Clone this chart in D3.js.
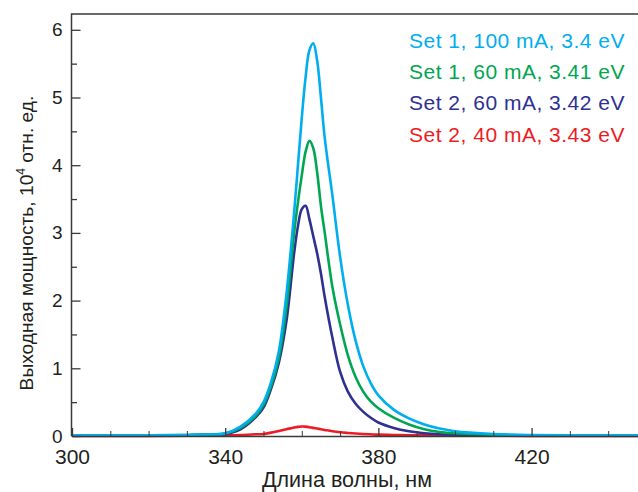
<!DOCTYPE html>
<html>
<head>
<meta charset="utf-8">
<script src="https://cdn.jsdelivr.net/npm/d3@7"></script>
<style>
  body { margin: 0; background: #fff; }
  svg { display: block; font-family: "Liberation Sans", Arial, sans-serif; }
  .axis text { fill: #231f20; }
  .axis path, .axis line { stroke: #3a3a3a; }
</style>
</head>
<body>
<svg width="638" height="492"></svg>
<script>
// wavelength grid, nm
const wavelengths = [300, 320, 330, 336, 340, 344, 348, 350, 352, 354, 356, 358, 359, 360, 361, 362, 363, 364, 365, 366,
                     368, 370, 372, 374, 376, 378, 380, 384, 388, 392, 396, 400, 410, 420, 435, 450];

// output power, 10^4 arb. units
const set1_100 = [0.01, 0.01, 0.015, 0.025, 0.04, 0.14, 0.33, 0.5, 0.8, 1.25, 2.1, 3.3, 4.0, 4.7, 5.3, 5.7, 5.8, 5.55, 5.0, 4.4,
                  3.55, 2.65, 1.95, 1.42, 1.04, 0.78, 0.6, 0.39, 0.26, 0.17, 0.11, 0.07, 0.03, 0.015, 0.01, 0.01];
const set1_60  = [0.01, 0.01, 0.015, 0.02, 0.035, 0.12, 0.3, 0.46, 0.74, 1.15, 1.9, 3.0, 3.45, 3.85, 4.2, 4.36, 4.25, 3.9, 3.4, 3.0,
                  2.2, 1.65, 1.2, 0.88, 0.66, 0.51, 0.41, 0.27, 0.17, 0.1, 0.06, 0.04, 0.02, 0.01, 0.01, 0.01];
const set2_60  = [0.01, 0.01, 0.012, 0.02, 0.03, 0.1, 0.28, 0.42, 0.7, 1.08, 1.7, 2.7, 3.1, 3.35, 3.4, 3.2, 2.95, 2.7, 2.4, 2.05,
                  1.45, 0.95, 0.66, 0.48, 0.36, 0.27, 0.2, 0.12, 0.07, 0.04, 0.025, 0.02, 0.01, 0.01, 0.01, 0.01];
const set2_40  = [0.0, 0.0, 0.004, 0.008, 0.01, 0.015, 0.025, 0.03, 0.05, 0.075, 0.1, 0.125, 0.135, 0.14, 0.138, 0.13, 0.12, 0.11, 0.1, 0.09,
                  0.07, 0.055, 0.045, 0.037, 0.03, 0.025, 0.02, 0.015, 0.012, 0.01, 0.008, 0.006, 0.004, 0.002, 0.0, 0.0];

const seriesNames  = ["Set 1, 100 mA, 3.4 eV", "Set 1, 60 mA, 3.41 eV", "Set 2, 60 mA, 3.42 eV", "Set 2, 40 mA, 3.43 eV"];
const seriesColors = ["#00aeef", "#00a651", "#2e3192", "#ed1c24"];
const seriesValues = [set1_100, set1_60, set2_60, set2_40];

const xMajor = [300, 340, 380, 420];
const yMajor = [0, 1, 2, 3, 4, 5, 6];

const svg = d3.select('svg');

const x = d3.scaleLinear().domain([300, 448]).range([72, 638.8]);
const y = d3.scaleLinear().domain([0, 6]).range([436, 29.8]);
const plotTop = 14;

svg.append('defs').append('clipPath').attr('id', 'clip')
   .append('rect').attr('x', x(300)).attr('y', plotTop).attr('width', 640 - x(300)).attr('height', y(0) - plotTop + 2);

// curves, red underneath, light blue on top
const line = d3.line()
    .x(d => x(d[0]))
    .y(d => y(d[1]))
    .curve(d3.curveCatmullRom.alpha(0.5));

const order = [3, 2, 1, 0];
svg.append('g').attr('clip-path', 'url(#clip)')
   .selectAll('path')
   .data(order)
   .join('path')
   .attr('fill', 'none')
   .attr('stroke', i => seriesColors[i])
   .attr('stroke-width', 2.6)
   .attr('stroke-linejoin', 'round')
   .attr('d', i => line(wavelengths.map((w, k) => [w, seriesValues[i][k]])));

// x axis
const xMinor = d3.range(310, 450, 10).filter(v => !xMajor.includes(v));
svg.append('g').attr('class', 'axis')
   .attr('transform', `translate(0, ${y(0)})`)
   .call(d3.axisBottom(x).tickValues(xMinor).tickSize(-5).tickSizeOuter(0).tickFormat(''))
   .call(g => g.select('.domain').attr('stroke-width', 1.5));

svg.append('g').attr('class', 'axis')
   .attr('transform', `translate(0, ${y(0)})`)
   .call(d3.axisBottom(x).tickValues(xMajor).tickSize(-8).tickPadding(13).tickSizeOuter(0))
   .call(g => g.select('.domain').remove())
   .call(g => g.selectAll('line').attr('stroke-width', 1.3))
   .call(g => g.selectAll('text').attr('font-size', 21).attr('font-family', '"Liberation Sans", Arial, sans-serif'));

// y axis
const yMinor = d3.range(0.5, 6.5, 1);
svg.append('g').attr('class', 'axis')
   .attr('transform', `translate(${x(300) - 0.5}, 0)`)
   .call(d3.axisLeft(y).tickValues(yMinor).tickSize(-5.5).tickFormat(''))
   .call(g => g.select('.domain').remove())
   .call(g => g.selectAll('line').attr('stroke-width', 1.3));

svg.append('g').attr('class', 'axis')
   .attr('transform', `translate(${x(300) - 0.5}, 0)`)
   .call(d3.axisLeft(y).tickValues(yMajor).tickSize(-9).tickPadding(9).tickFormat(d3.format('d')))
   .call(g => g.select('.domain').remove())
   .call(g => g.selectAll('line').attr('stroke-width', 1.3))
   .call(g => g.selectAll('text').attr('font-size', 19).attr('font-family', '"Liberation Sans", Arial, sans-serif'));

// frame: left and top lines
svg.append('path')
   .attr('d', `M${x(300) - 0.5},${y(0)}V${plotTop}H638`)
   .attr('fill', 'none')
   .attr('stroke', '#3a3a3a')
   .attr('stroke-width', 1.5);

// axis titles
svg.append('text')
   .attr('x', 347)
   .attr('y', 487)
   .attr('text-anchor', 'middle')
   .attr('font-size', 21.5)
   .attr('fill', '#231f20')
   .text('Длина волны, нм');

const yTitle = svg.append('text')
   .attr('transform', 'translate(33, 243) rotate(-90)')
   .attr('text-anchor', 'middle')
   .attr('font-size', 19.2)
   .attr('fill', '#231f20');
yTitle.append('tspan').text('Выходная мощность, 10');
yTitle.append('tspan').attr('font-size', 12).attr('dy', -8).text('4');
yTitle.append('tspan').attr('dy', 8).text(' отн. ед.');

// legend
svg.append('g')
   .selectAll('text')
   .data(seriesNames)
   .join('text')
   .attr('x', 409)
   .attr('y', (d, i) => 47.5 + i * 31.4)
   .attr('font-size', 21)
   .attr('letter-spacing', 0.5)
   .attr('fill', (d, i) => seriesColors[i])
   .text(d => d);
</script>
</body>
</html>
